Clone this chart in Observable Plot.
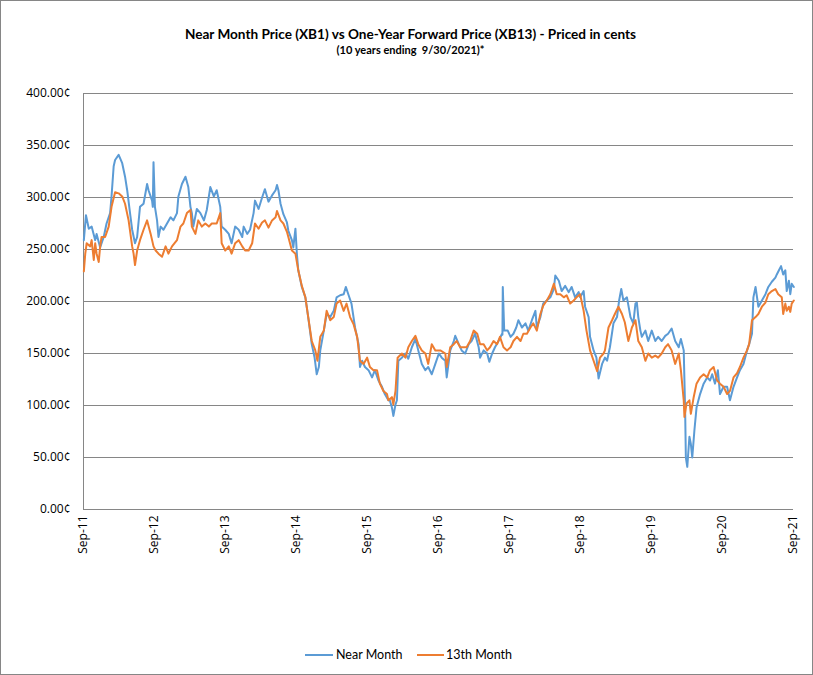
<!DOCTYPE html>
<html><head><meta charset="utf-8">
<script src="https://cdn.jsdelivr.net/npm/d3@7"></script>
<script src="https://cdn.jsdelivr.net/npm/@observablehq/plot@0.6"></script>
<style>
body{margin:0;background:#fff;}
#wrap{position:relative;width:813px;height:675px;font-family:Lato,"Open Sans",sans-serif;color:#000;}
#frame{position:absolute;left:0;top:0;width:811px;height:673px;border:1px solid #868686;pointer-events:none;}
#title{position:absolute;top:26px;left:0;width:821px;text-align:center;font-weight:bold;font-size:13.6px;}
#sub{position:absolute;top:43px;left:0;width:821px;text-align:center;font-weight:bold;font-size:11px;}
#chart{position:absolute;left:0;top:0;}
#legend{position:absolute;top:646px;left:0;width:813px;font-size:12.5px;}
.lg{position:absolute;top:0;height:18px;line-height:18px;white-space:nowrap;}
.sw{position:absolute;top:8px;height:2px;}
</style></head>
<body>
<div id="wrap">
  <div id="chart"></div>
  <div id="title">Near Month Price (XB1) vs One-Year Forward Price (XB13) - Priced in cents</div>
  <div id="sub">(10 years ending&nbsp; 9/30/2021)*</div>
  <div id="legend">
    <span class="sw" style="left:305px;width:28px;background:#5B9BD5"></span>
    <span class="lg" style="left:336px">Near Month</span>
    <span class="sw" style="left:417px;width:27px;background:#ED7D31"></span>
    <span class="lg" style="left:446px">13th Month</span>
  </div>
  <div id="frame"></div>
</div>
<script>
// Near Month (XB1) — decimal years and cents
const nearDates = [2011.75,2011.78,2011.82,2011.86,2011.91,2011.93,2011.98,2012.03,2012.07,2012.12,2012.14,2012.17,2012.19,2012.24,2012.29,2012.33,2012.36,2012.40,2012.43,2012.47,2012.50,2012.54,2012.59,2012.64,2012.66,2012.71,2012.72,2012.73,2012.75,2012.78,2012.80,2012.83,2012.87,2012.92,2012.97,2013.01,2013.06,2013.08,2013.13,2013.18,2013.22,2013.25,2013.27,2013.29,2013.34,2013.39,2013.44,2013.48,2013.53,2013.58,2013.62,2013.67,2013.69,2013.74,2013.79,2013.83,2013.88,2013.93,2013.98,2014.00,2014.05,2014.09,2014.14,2014.16,2014.21,2014.26,2014.30,2014.35,2014.40,2014.45,2014.47,2014.49,2014.52,2014.56,2014.61,2014.63,2014.68,2014.70,2014.73,2014.75,2014.77,2014.82,2014.87,2014.91,2014.96,2015.00,2015.03,2015.06,2015.08,2015.13,2015.17,2015.22,2015.27,2015.31,2015.36,2015.41,2015.44,2015.48,2015.52,2015.57,2015.62,2015.64,2015.67,2015.71,2015.76,2015.81,2015.85,2015.90,2015.95,2015.99,2016.04,2016.06,2016.09,2016.11,2016.14,2016.16,2016.18,2016.23,2016.28,2016.32,2016.37,2016.42,2016.46,2016.51,2016.56,2016.60,2016.65,2016.70,2016.75,2016.79,2016.84,2016.86,2016.91,2016.96,2016.98,2017.03,2017.07,2017.12,2017.17,2017.21,2017.26,2017.31,2017.33,2017.38,2017.43,2017.46,2017.50,2017.54,2017.59,2017.640,2017.645,2017.650,2017.67,2017.72,2017.76,2017.80,2017.84,2017.87,2017.92,2017.97,2018.01,2018.06,2018.11,2018.13,2018.18,2018.22,2018.27,2018.32,2018.37,2018.39,2018.44,2018.48,2018.53,2018.58,2018.62,2018.67,2018.72,2018.74,2018.79,2018.81,2018.86,2018.88,2018.93,2018.97,2019.00,2019.05,2019.09,2019.12,2019.16,2019.21,2019.26,2019.29,2019.32,2019.35,2019.40,2019.45,2019.49,2019.52,2019.54,2019.56,2019.59,2019.61,2019.66,2019.70,2019.75,2019.80,2019.84,2019.89,2019.94,2019.98,2020.03,2020.08,2020.13,2020.16,2020.20,2020.22,2020.23,2020.25,2020.28,2020.30,2020.32,2020.35,2020.38,2020.43,2020.48,2020.53,2020.57,2020.60,2020.64,2020.68,2020.71,2020.76,2020.81,2020.85,2020.90,2020.95,2020.99,2021.04,2021.09,2021.12,2021.16,2021.18,2021.21,2021.25,2021.30,2021.35,2021.39,2021.44,2021.49,2021.51,2021.54,2021.57,2021.60,2021.63,2021.65,2021.68,2021.70,2021.72,2021.75];
const nearCents = [259,283,270,272,259,265,252,262,275,285,301,330,336,341,333,320,307,285,269,256,262,291,294,313,307,297,291,334,291,278,262,272,269,275,281,278,285,301,313,320,310,291,285,272,289,285,278,288,310,301,307,291,272,269,265,256,272,269,262,272,265,269,285,297,289,300,308,296,302,307,312,307,294,284,276,268,259,252,270,246,230,214,204,185,159,146,130,137,153,172,188,185,191,204,206,207,214,206,198,175,159,137,143,137,134,127,134,124,118,111,105,105,98,90,101,105,143,146,150,145,156,164,153,140,134,137,130,140,150,146,143,127,153,162,167,159,153,150,159,162,169,156,146,153,150,142,150,156,162,169,168,214,172,172,166,169,175,182,175,179,172,182,191,175,185,198,201,204,212,225,220,210,215,209,214,204,209,204,210,195,185,166,153,146,126,140,146,143,156,179,185,201,212,201,204,185,179,198,199,185,172,166,172,162,172,162,166,162,167,169,174,162,156,164,153,95,50,41,70,63,50,76,98,111,121,127,124,130,121,134,111,118,118,105,118,127,134,140,153,159,169,204,214,195,201,207,214,219,223,226,230,234,226,230,210,220,207,217,214,224];

// 13th Month (XB13) — decimal years and cents
const forwardDates = [2011.75,2011.77,2011.79,2011.84,2011.86,2011.89,2011.91,2011.93,2011.96,2011.98,2012.00,2012.05,2012.10,2012.14,2012.19,2012.24,2012.29,2012.33,2012.38,2012.43,2012.45,2012.47,2012.50,2012.54,2012.59,2012.64,2012.69,2012.73,2012.76,2012.80,2012.85,2012.90,2012.94,2012.99,2013.06,2013.11,2013.15,2013.20,2013.25,2013.27,2013.32,2013.36,2013.41,2013.46,2013.51,2013.55,2013.62,2013.67,2013.69,2013.74,2013.79,2013.83,2013.88,2013.93,2013.98,2014.02,2014.07,2014.12,2014.16,2014.21,2014.26,2014.30,2014.35,2014.40,2014.45,2014.47,2014.52,2014.56,2014.61,2014.63,2014.68,2014.73,2014.77,2014.82,2014.87,2014.91,2014.96,2015.01,2015.04,2015.08,2015.13,2015.17,2015.22,2015.27,2015.31,2015.36,2015.41,2015.45,2015.50,2015.55,2015.60,2015.64,2015.69,2015.74,2015.78,2015.83,2015.88,2015.92,2015.97,2016.02,2016.04,2016.09,2016.11,2016.14,2016.17,2016.23,2016.28,2016.32,2016.37,2016.42,2016.46,2016.51,2016.56,2016.60,2016.65,2016.70,2016.77,2016.84,2016.86,2016.91,2016.96,2017.00,2017.05,2017.10,2017.14,2017.19,2017.24,2017.29,2017.33,2017.38,2017.43,2017.47,2017.52,2017.57,2017.61,2017.66,2017.71,2017.76,2017.80,2017.85,2017.90,2017.94,2017.99,2018.04,2018.08,2018.13,2018.18,2018.22,2018.27,2018.32,2018.37,2018.41,2018.46,2018.51,2018.55,2018.60,2018.65,2018.69,2018.74,2018.79,2018.83,2018.88,2018.93,2018.98,2019.02,2019.07,2019.09,2019.14,2019.19,2019.23,2019.28,2019.33,2019.37,2019.42,2019.47,2019.52,2019.56,2019.61,2019.66,2019.70,2019.75,2019.80,2019.84,2019.89,2019.94,2019.98,2020.03,2020.08,2020.13,2020.16,2020.20,2020.21,2020.24,2020.28,2020.30,2020.34,2020.38,2020.43,2020.48,2020.53,2020.57,2020.62,2020.67,2020.71,2020.76,2020.81,2020.85,2020.90,2020.95,2020.99,2021.04,2021.09,2021.12,2021.16,2021.21,2021.25,2021.30,2021.35,2021.39,2021.44,2021.49,2021.53,2021.58,2021.60,2021.63,2021.65,2021.68,2021.70,2021.72,2021.75];
const forwardCents = [229,246,256,253,259,240,256,246,238,253,262,262,272,291,305,304,301,294,278,253,246,235,249,259,269,278,265,253,249,246,243,253,246,253,259,272,275,285,288,272,265,278,272,275,272,275,275,285,256,249,253,246,256,259,253,249,249,256,275,270,276,278,271,278,281,287,278,275,267,262,249,246,230,215,204,185,162,153,143,166,172,191,182,185,198,201,191,198,185,178,166,143,140,146,137,134,134,121,114,111,105,108,101,114,146,150,146,156,162,167,159,153,150,140,159,153,153,150,137,156,159,162,156,156,156,162,172,169,159,159,153,156,162,159,166,156,153,156,162,166,162,169,169,175,179,172,188,196,201,207,217,207,207,204,206,198,201,204,207,191,172,153,143,133,146,150,153,175,182,188,195,188,180,162,175,182,162,156,143,150,146,148,146,150,156,159,153,140,150,134,105,89,102,105,92,108,121,127,130,127,134,137,124,121,118,111,114,127,131,137,146,153,159,182,185,188,195,199,207,210,212,207,204,188,198,191,195,190,198,201];

// Axis ticks
const tickYears = [2011,2012,2013,2014,2015,2016,2017,2018,2019,2020,2021];
const centTicks = [0,50,100,150,200,250,300,350,400];

function yearToDate(t){
  const y = Math.floor(t);
  const a = Date.UTC(y,0,1), b = Date.UTC(y+1,0,1);
  return new Date(a + (t - y) * (b - a));
}
const near = nearDates.map((t,i)=>({date: yearToDate(t), cents: nearCents[i], series: "Near Month"}));
const forward = forwardDates.map((t,i)=>({date: yearToDate(t), cents: forwardCents[i], series: "13th Month"}));
const xTicks = tickYears.map(y => new Date(Date.UTC(y,8,30)));
const fmt = d3.utcFormat("%b-%y");

const chart = Plot.plot({
  width: 813,
  height: 675,
  marginLeft: 83,
  marginRight: 20,
  marginTop: 93,
  marginBottom: 166,
  style: {fontFamily: '"Open Sans", Lato, sans-serif', fontSize: "12px", color: "#000", background: "transparent"},
  x: {type: "utc", domain: [xTicks[0], xTicks[xTicks.length-1]]},
  y: {domain: [0, 400]},
  marks: [
    Plot.gridY(centTicks, {stroke: "#868686", strokeOpacity: 1, strokeWidth: 1}),
    Plot.ruleX([xTicks[0]], {stroke: "#868686", strokeWidth: 1}),
    Plot.axisY(centTicks, {tickSize: 0, tickPadding: 13, tickFormat: d => d.toFixed(2) + "¢", label: null, fontSize: 12}),
    Plot.axisX(xTicks, {tickSize: 0, tickPadding: 6, tickRotate: -90, tickFormat: fmt, label: null, fontSize: 12}),
    Plot.line(near, {x: "date", y: "cents", stroke: "#5B9BD5", strokeWidth: 2, curve: "linear"}),
    Plot.line(forward, {x: "date", y: "cents", stroke: "#ED7D31", strokeWidth: 2, curve: "linear"})
  ]
});
document.getElementById("chart").appendChild(chart);
</script>
</body></html>
